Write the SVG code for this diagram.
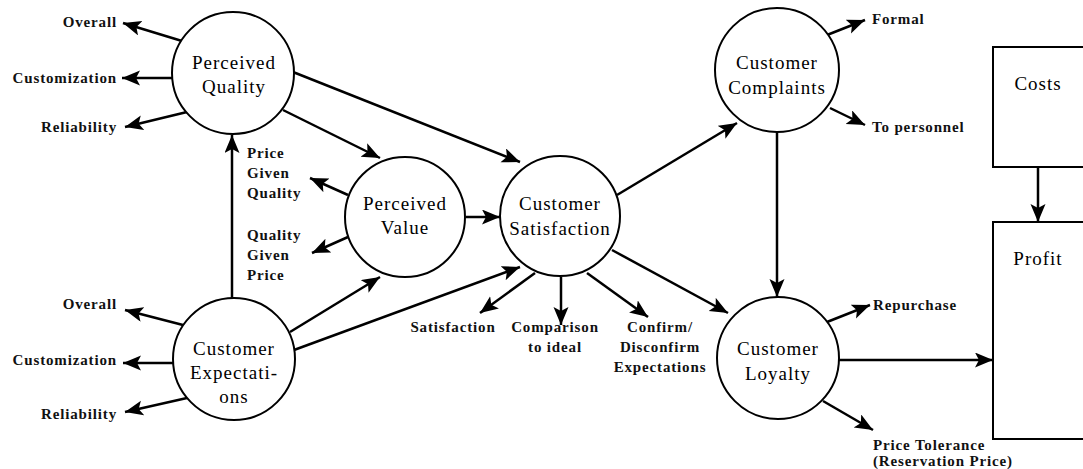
<svg xmlns="http://www.w3.org/2000/svg" width="1083" height="469" viewBox="0 0 1083 469">
<style>
.node{fill:#fff;stroke:#000;stroke-width:2}
.nt{font-family:"Liberation Serif",serif;font-size:19px;letter-spacing:1px;text-anchor:middle;dominant-baseline:central;fill:#000}
.lb{font-family:"Liberation Serif",serif;font-size:15px;font-weight:bold;letter-spacing:0.85px;dominant-baseline:central;fill:#111}
.r{text-anchor:end}
.m{text-anchor:middle}
.c line{stroke:#000;stroke-width:2.5;marker-end:url(#ah)}
</style>
<defs>
<marker id="ah" markerUnits="userSpaceOnUse" markerWidth="20" markerHeight="16" refX="18" refY="7.5" orient="auto">
<path d="M0,0 L18,7.5 L0,15 L4,7.5 Z" fill="#000"/>
</marker>
</defs>
<rect width="1083" height="469" fill="#fff"/>
<g class="c" id="connectors">
<line x1="182" y1="41" x2="123" y2="23"/>
<line x1="172" y1="78" x2="122" y2="78"/>
<line x1="187" y1="112" x2="125" y2="127"/>
<line x1="183" y1="325" x2="125" y2="310"/>
<line x1="173" y1="363" x2="123" y2="363"/>
<line x1="187" y1="398" x2="125" y2="412"/>
<line x1="232" y1="298" x2="232" y2="135"/>
<line x1="283" y1="110" x2="380" y2="158"/>
<line x1="293" y1="72" x2="520" y2="162"/>
<line x1="348" y1="195" x2="310" y2="178"/>
<line x1="348" y1="237" x2="312" y2="253"/>
<line x1="466" y1="217" x2="500" y2="217"/>
<line x1="290" y1="332" x2="380" y2="277"/>
<line x1="294" y1="350" x2="520" y2="267"/>
<line x1="535" y1="273" x2="480" y2="313"/>
<line x1="561" y1="277" x2="561" y2="325"/>
<line x1="587" y1="273" x2="648" y2="317"/>
<line x1="612" y1="250" x2="728" y2="313"/>
<line x1="617" y1="195" x2="737" y2="123"/>
<line x1="827" y1="35" x2="865" y2="20"/>
<line x1="830" y1="108" x2="865" y2="125"/>
<line x1="777" y1="133" x2="777" y2="297"/>
<line x1="827" y1="322" x2="870" y2="305"/>
<line x1="839" y1="360" x2="993" y2="360"/>
<line x1="823" y1="401" x2="873" y2="430"/>
<line x1="1038" y1="167" x2="1038" y2="222"/>
</g>
<g id="perceived-quality">
<circle class="node" cx="233" cy="73" r="61"/>
<text class="nt" x="234" y="62">Perceived</text>
<text class="nt" x="234" y="86">Quality</text>
</g>
<g id="customer-expectations">
<circle class="node" cx="234" cy="359" r="61"/>
<text class="nt" x="234" y="348">Customer</text>
<text class="nt" x="234" y="372">Expectati-</text>
<text class="nt" x="234" y="396">ons</text>
</g>
<g id="perceived-value">
<circle class="node" cx="405" cy="217" r="60"/>
<text class="nt" x="405" y="203">Perceived</text>
<text class="nt" x="405" y="227">Value</text>
</g>
<g id="customer-satisfaction">
<circle class="node" cx="560" cy="216" r="60"/>
<text class="nt" x="560" y="203">Customer</text>
<text class="nt" x="560" y="228">Satisfaction</text>
</g>
<g id="customer-complaints">
<circle class="node" cx="777" cy="70" r="62"/>
<text class="nt" x="777" y="62">Customer</text>
<text class="nt" x="777" y="87">Complaints</text>
</g>
<g id="customer-loyalty">
<circle class="node" cx="778" cy="358" r="61"/>
<text class="nt" x="778" y="348">Customer</text>
<text class="nt" x="778" y="373">Loyalty</text>
</g>
<g id="costs">
<rect class="node" x="993" y="47" width="100" height="120"/>
<text class="nt" x="1038" y="83">Costs</text>
</g>
<g id="profit">
<rect class="node" x="993" y="222" width="100" height="217"/>
<text class="nt" x="1038" y="258">Profit</text>
</g>
<g id="labels">
<text class="lb r" x="117" y="22">Overall</text>
<text class="lb r" x="117" y="78">Customization</text>
<text class="lb r" x="117" y="127">Reliability</text>
<text class="lb r" x="117" y="304">Overall</text>
<text class="lb r" x="117" y="360">Customization</text>
<text class="lb r" x="117" y="414">Reliability</text>
<text class="lb" x="247" y="153">Price</text>
<text class="lb" x="247" y="173">Given</text>
<text class="lb" x="247" y="193">Quality</text>
<text class="lb" x="247" y="235">Quality</text>
<text class="lb" x="247" y="255">Given</text>
<text class="lb" x="247" y="275">Price</text>
<text class="lb m" x="453" y="327">Satisfaction</text>
<text class="lb m" x="555" y="327">Comparison</text>
<text class="lb m" x="555" y="347">to ideal</text>
<text class="lb m" x="660" y="327">Confirm/</text>
<text class="lb m" x="660" y="347">Disconfirm</text>
<text class="lb m" x="660" y="367">Expectations</text>
<text class="lb" x="872" y="19">Formal</text>
<text class="lb" x="872" y="127">To personnel</text>
<text class="lb" x="873" y="305">Repurchase</text>
<text class="lb" x="873" y="445">Price Tolerance</text>
<text class="lb" x="873" y="461">(Reservation Price)</text>
</g>
</svg>
